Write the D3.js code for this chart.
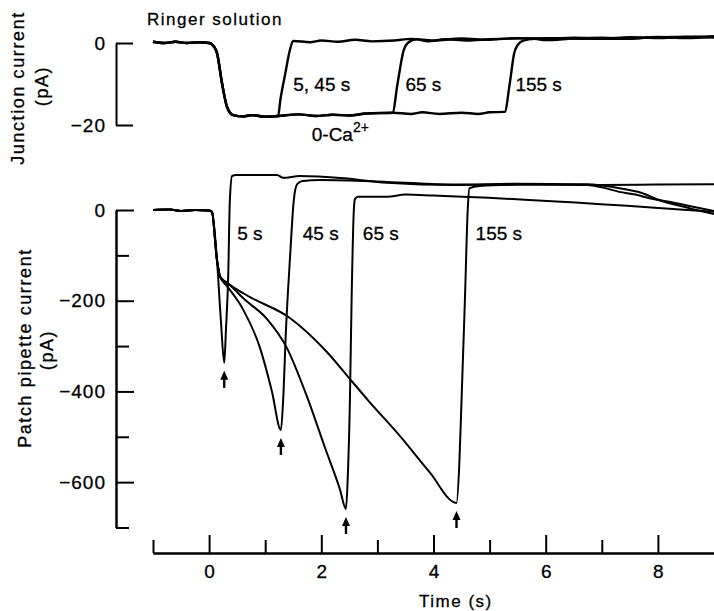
<!DOCTYPE html>
<html>
<head>
<meta charset="utf-8">
<script src="https://cdn.jsdelivr.net/npm/d3@7"></script>
<style>
  html, body { margin: 0; padding: 0; background: #fff; }
  svg { display: block; font-family: "Liberation Sans", Arial, Helvetica, sans-serif; }
  text { stroke: #000; stroke-width: 0.3px; }
</style>
</head>
<body>
<svg id="chart" width="714" height="611"></svg>
<script>
// ── Data (time in s, current in pA) ─────────────────────────────────────────

// Junction current, top panel
const junction5_45 = [[-1,0.3],[-0.8,0],[-0.6,0.3],[-0.4,0],[-0.2,0.2],[0,0],[0.05,-0.3],[0.14,-2.4],[0.23,-9.8],[0.32,-15.6],[0.43,-17.6],[0.6,-17.9],[0.78,-17.6],[1.0,-18],[1.23,-17.8],[1.27,-13.9],[1.36,-7.3],[1.44,-1.7],[1.5,0.5],[1.8,0.2],[2.0,0.6],[2.3,0.3],[2.6,0.8],[2.9,0.4],[3.3,0.6],[3.6,1.0],[4.0,0.6],[4.5,1.1],[5,0.8],[5.5,1.2],[6,1.0],[6.5,1.3],[7,1.1],[7.5,1.4],[8,1.2],[8.5,1.5],[9,1.3]];
const junction65 = [[-1,0.3],[-0.8,0],[-0.6,0.3],[-0.4,0],[-0.2,0.2],[0,0],[0.05,-0.3],[0.14,-2.4],[0.23,-9.8],[0.32,-15.6],[0.43,-17.6],[0.6,-17.9],[0.78,-17.6],[1.0,-18],[1.23,-17.8],[1.6,-17.4],[1.9,-17.8],[2.2,-17.5],[2.5,-17.7],[2.8,-17.2],[3.27,-17.0],[3.36,-9.8],[3.47,-1.7],[3.54,0],[3.7,0.9],[3.9,0.4],[4.2,0.9],[4.6,0.6],[5,0.9],[6,1.2],[7,1.0],[8,1.4],[9,1.6]];
const junction155 = [[-1,0.3],[-0.8,0],[-0.6,0.3],[-0.4,0],[-0.2,0.2],[0,0],[0.05,-0.3],[0.14,-2.4],[0.23,-9.8],[0.32,-15.6],[0.43,-17.6],[0.6,-17.9],[0.78,-17.6],[1.0,-18],[1.23,-17.8],[1.6,-17.4],[1.9,-17.8],[2.2,-17.5],[2.5,-17.7],[2.8,-17.2],[3.27,-17.0],[3.6,-17.3],[3.8,-16.9],[4.1,-17.3],[4.5,-17.0],[4.8,-17.3],[5.0,-16.9],[5.27,-16.8],[5.36,-9.8],[5.44,-2.4],[5.5,-0.5],[5.6,0.6],[5.8,1.0],[6,0.7],[6.5,1.1],[7,1.3],[7.5,1.0],[8,1.5],[8.5,1.2],[9,1.6]];

// Patch pipette current, bottom panel
const patch5 = [[-1,0],[-0.7,1],[-0.5,-2],[-0.25,0],[0,-1],[0.05,-4],[0.14,-110],[0.21,-243],[0.27,-337],[0.30,-265],[0.34,-148],[0.37,22],[0.41,75],[0.48,77],[1.21,77],[1.32,71],[1.62,75],[2.4,70],[3.17,60],[4.38,55],[5.5,56],[6.96,55],[8,56],[9,57]];
const patch45 = [[-1,0],[-0.7,1],[-0.5,-2],[-0.25,0],[0,-1],[0.05,-4],[0.14,-110],[0.2,-148],[0.32,-168],[0.6,-218],[0.91,-305],[1.12,-400],[1.28,-485],[1.32,-419],[1.37,-265],[1.44,-110],[1.51,22],[1.57,57],[1.67,64],[1.98,66],[3.17,62],[4.38,56],[5.5,58],[6.74,55],[7.0,50],[7.31,40],[7.6,34],[7.85,26],[8.2,18],[8.56,9],[9,-2]];
const patch65 = [[-1,0],[-0.7,1],[-0.5,-2],[-0.25,0],[0,-1],[0.05,-4],[0.14,-110],[0.2,-148],[0.32,-160],[0.64,-198],[1.03,-240],[1.39,-305],[1.74,-410],[2.06,-522],[2.33,-615],[2.44,-659],[2.47,-595],[2.51,-419],[2.54,-198],[2.58,0],[2.6,24],[2.65,29],[3.17,29],[3.5,34],[4.0,32],[9,-4]];
const patch155 = [[-1,0],[-0.7,1],[-0.5,-2],[-0.25,0],[0,-1],[0.05,-4],[0.14,-110],[0.2,-148],[0.37,-165],[0.73,-192],[1.44,-238],[2.1,-313],[2.54,-377],[2.83,-419],[3.4,-498],[3.93,-578],[4.41,-646],[4.46,-560],[4.5,-419],[4.56,-198],[4.61,0],[4.64,48],[4.82,53],[5.5,56],[6.74,57],[7.0,54],[7.31,48],[7.7,38],[8.02,22],[8.56,4],[9,-9]];

// Peak positions marked with arrows
const arrowPeaks = [[0.27,-337],[1.28,-485],[2.44,-659],[4.41,-646]];

// Trace labels [text, t, pA]
const junctionLabels = [["5, 45 s",1.5,-11.7],["65 s",3.5,-11.7],["155 s",5.46,-11.7]];
const patchLabels = [["5 s",0.5,-66],["45 s",1.67,-66],["65 s",2.74,-66],["155 s",4.75,-66]];

// Ticks
const timeMajor = [0, 2, 4, 6, 8];
const timeMinor = [-1, 1, 3, 5, 7];
const junctionTicks = [0, -20];
const patchMajor = [0, -200, -400, -600];
const patchMinor = [-100, -300, -500, -700];

// ── Scales ──────────────────────────────────────────────────────────────────
const x = d3.scaleLinear().domain([-1, 9]).range([153, 714]);
const yJ = d3.scaleLinear().domain([0, -20]).range([43, 125]);
const yP = d3.scaleLinear().domain([0, -700]).range([210, 527.5]);

const svg = d3.select("#chart");

function styleAxis(g, fontSize, spacing) {
  g.attr("font-family", null).attr("font-size", null);
  g.selectAll(".domain, .tick line").attr("stroke", "#000").attr("stroke-width", 2);
  g.selectAll(".tick text")
    .attr("fill", "#000")
    .attr("font-size", fontSize)
    .attr("letter-spacing", spacing);
}

// ── Axes ────────────────────────────────────────────────────────────────────
svg.append("g")
  .attr("transform", "translate(116,0)")
  .call(d3.axisLeft(yJ).tickValues(junctionTicks).tickSizeInner(-17).tickSizeOuter(0).tickPadding(10).tickFormat(d3.format("d")))
  .call(styleAxis, 19, 1);

svg.append("g")
  .attr("transform", "translate(116,0)")
  .call(d3.axisLeft(yP).tickValues(patchMajor).tickSizeInner(-18).tickSizeOuter(0).tickPadding(10).tickFormat(d3.format("d")))
  .call(styleAxis, 19, 1);

svg.append("g")
  .attr("transform", "translate(116,0)")
  .call(d3.axisLeft(yP).tickValues(patchMinor).tickSizeInner(-13).tickSizeOuter(0).tickFormat(""))
  .call(styleAxis, 19, 0);

svg.append("g")
  .attr("transform", "translate(0,553)")
  .call(d3.axisBottom(x).tickValues(timeMajor).tickSizeInner(-18).tickSizeOuter(0).tickPadding(12).tickFormat(d3.format("d")))
  .call(styleAxis, 19, 0);

svg.append("g")
  .attr("transform", "translate(0,553)")
  .call(d3.axisBottom(x).tickValues(timeMinor).tickSizeInner(-13).tickSizeOuter(0).tickFormat(""))
  .call(styleAxis, 19, 0);

// ── Axis titles
const titles = [
  ["Junction current", 24, 88],
  ["(pA)", 48, 86],
  ["Patch pipette current", 31, 348],
  ["(pA)", 53, 350],
];
svg.append("g").selectAll("text")
  .data(titles)
  .join("text")
  .attr("transform", (d) => `translate(${d[1]},${d[2]}) rotate(-90)`)
  .attr("text-anchor", "middle")
  .attr("font-size", 18)
  .attr("letter-spacing", 1.6)
  .text((d) => d[0]);

svg.append("text")
  .attr("x", x(4.4))
  .attr("y", 607)
  .attr("text-anchor", "middle")
  .attr("font-size", 17)
  .attr("letter-spacing", 1.5)
  .text("Time (s)");

svg.append("text")
  .attr("x", 147)
  .attr("y", 25)
  .attr("font-size", 17)
  .attr("letter-spacing", 1.5)
  .text("Ringer solution");

// ── Traces
const lineJ = d3.line().curve(d3.curveMonotoneX).x((d) => x(d[0])).y((d) => yJ(d[1]));
const lineP = d3.line().curve(d3.curveMonotoneX).x((d) => x(d[0])).y((d) => yP(d[1]));

svg.append("g").selectAll("path")
  .data([junction155, junction65, junction5_45])
  .join("path")
  .attr("d", lineJ)
  .attr("fill", "none")
  .attr("stroke", "#000")
  .attr("stroke-width", 2.4)
  .attr("stroke-linejoin", "round");

svg.append("g").selectAll("path")
  .data([patch5, patch45, patch65, patch155])
  .join("path")
  .attr("d", lineP)
  .attr("fill", "none")
  .attr("stroke", "#000")
  .attr("stroke-width", 2)
  .attr("stroke-linejoin", "round");

// ── Arrows under each peak
const arrows = svg.append("g").selectAll("g")
  .data(arrowPeaks)
  .join("g")
  .attr("transform", (d) => `translate(${x(d[0])},${yP(d[1]) + 8})`);
arrows.append("line")
  .attr("x1", 0).attr("x2", 0).attr("y1", 6).attr("y2", 17)
  .attr("stroke", "#000").attr("stroke-width", 2.4);
arrows.append("path")
  .attr("d", "M0,0 L-4,9 L4,9 Z")
  .attr("fill", "#000");

// ── Trace labels
svg.append("g").selectAll("text")
  .data(junctionLabels)
  .join("text")
  .attr("x", (d) => x(d[1]))
  .attr("y", (d) => yJ(d[2]))
  .attr("font-size", 19)
  .text((d) => d[0]);

svg.append("g").selectAll("text")
  .data(patchLabels)
  .join("text")
  .attr("x", (d) => x(d[1]))
  .attr("y", (d) => yP(d[2]))
  .attr("font-size", 19)
  .text((d) => d[0]);

const ca = svg.append("text")
  .attr("x", x(1.83))
  .attr("y", yJ(-23.9))
  .attr("font-size", 19);
ca.append("tspan").text("0-Ca");
ca.append("tspan").attr("font-size", 14).attr("dy", -9).text("2+");
</script>
</body>
</html>
